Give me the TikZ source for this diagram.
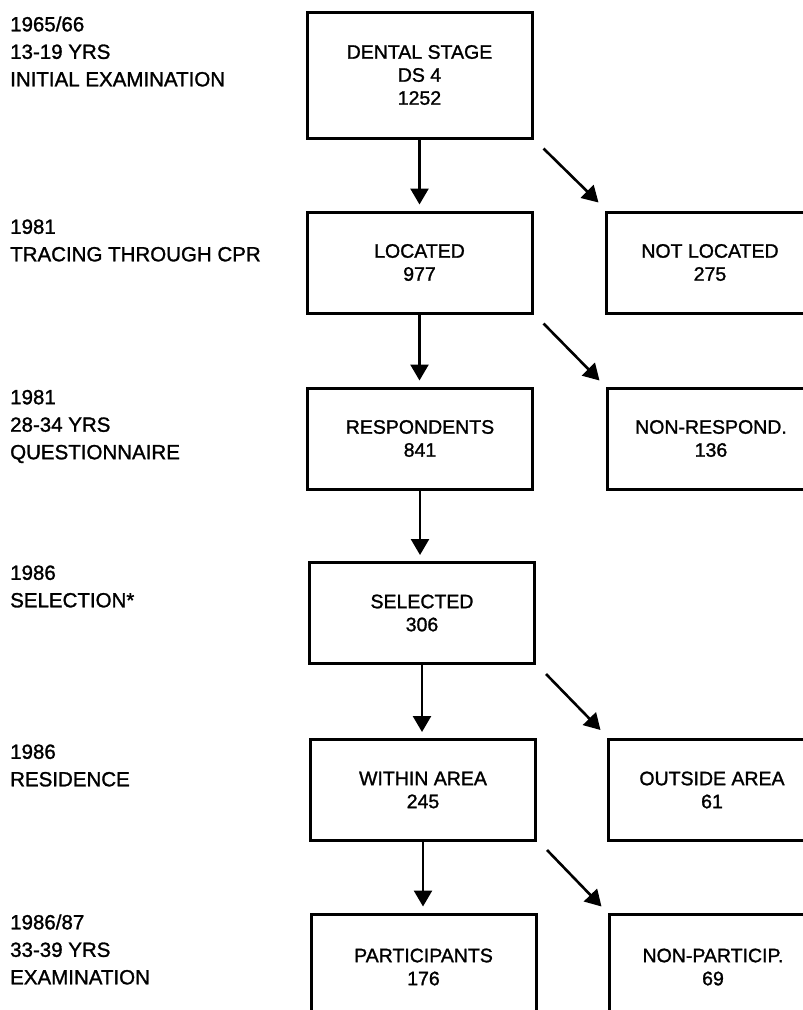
\documentclass[tikz,border=0pt]{standalone}
\usepackage{fontspec}
\setmainfont{Liberation Sans}[FakeBold=1.3]
\usetikzlibrary{arrows.meta}
\begin{document}
\begin{tikzpicture}[x=1pt,y=-1pt,
  box/.style={draw,line width=3pt,rectangle,align=center,font=\fontsize{19.5}{23}\selectfont,inner sep=0pt},
  mainbox/.style={box,minimum width=225pt,minimum height=101pt},
  sidebox/.style={box,minimum width=208pt,minimum height=101pt},
  lab/.style={anchor=west,align=left,font=\fontsize{20.5}{27.5}\selectfont,inner sep=0pt},
  arr/.style={line width=2.6pt,-{Triangle[length=16pt,width=18pt]}},
  downarr/.style={arr,shorten >=6pt},
]
\useasboundingbox (0,0) rectangle (803,1010);
\clip (0,0) rectangle (803,1010);

% boxes
\node[mainbox,minimum height=126pt] (dental) at (419.5,75) {DENTAL STAGE\\DS 4\\1252};
\node[mainbox] (located) at (419.5,262.5) {LOCATED\\977};
\node[sidebox] (notloc) at (710,262.5) {NOT LOCATED\\275};
\node[mainbox] (resp) at (420,438.5) {RESPONDENTS\\841};
\node[sidebox] (nonresp) at (711,438.5) {NON-RESPOND.\\136};
\node[mainbox] (sel) at (422,613) {SELECTED\\306};
\node[mainbox] (within) at (423,790) {WITHIN AREA\\245};
\node[sidebox] (outside) at (712,790) {OUTSIDE AREA\\61};
\node[mainbox,minimum height=106pt] (part) at (423.5,967) {PARTICIPANTS\\176};
\node[sidebox,minimum height=106pt] (nonpart) at (713,967) {NON-PARTICIP.\\69};

% left labels
\node[lab] (l1) at (10,51.5) {1965/66\\13-19 YRS\\INITIAL EXAMINATION};
\node[lab] (l2) at (10,240.5) {1981\\TRACING THROUGH CPR};
\node[lab] (l3) at (10,426.5) {1981\\28-34 YRS\\QUESTIONNAIRE};
\node[lab] (l4) at (10,586.5) {1986\\SELECTION*};
\node[lab] (l5) at (10,765.5) {1986\\RESIDENCE};
\node[lab] (l6) at (10,949.5) {1986/87\\33-39 YRS\\EXAMINATION};

% vertical arrows
\draw[downarr] (dental.south) -- (dental.south |- located.north);
\draw[downarr] (located.south) -- (located.south |- resp.north);
\draw[downarr] (resp.south) -- (resp.south |- sel.north);
\draw[downarr] (sel.south) -- (sel.south |- within.north);
\draw[downarr] (within.south) -- (within.south |- part.north);

% diagonal arrows
\draw[arr] ([shift={(10,9)}]dental.south east) -- ([shift={(-6,-8)}]notloc.north west);
\draw[arr] ([shift={(10,9)}]located.south east) -- ([shift={(-6,-6)}]nonresp.north west);
\draw[arr] ([shift={(10,9)}]sel.south east) -- ([shift={(-6,-8)}]outside.north west);
\draw[arr] ([shift={(10,8)}]within.south east) -- ([shift={(-6,-6)}]nonpart.north west);
\end{tikzpicture}
\end{document}
